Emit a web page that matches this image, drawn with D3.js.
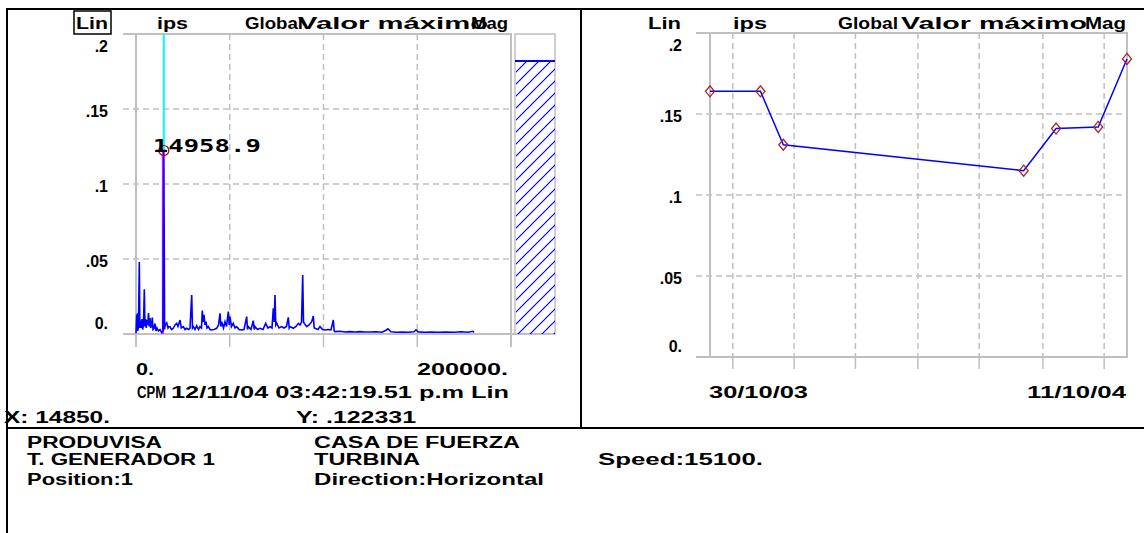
<!DOCTYPE html>
<html><head><meta charset="utf-8">
<script src="https://cdn.jsdelivr.net/npm/d3@7"></script>
<style>
html,body{margin:0;padding:0;background:#fff;}
svg{display:block;}
text{font-family:"Liberation Sans",Arial,sans-serif;font-weight:bold;font-size:16px;fill:#000;}
</style>
</head><body>
<svg id="chart" width="1144" height="533"></svg>
<script>
// ---------------- DATA ----------------
// Spectrum (left panel): frequency in CPM, amplitude in ips
const spectrumCPM = [0,370,690,960,1330,1760,2080,2450,2770,3200,3570,4000,4430,4800,5170,5490,5870,6240,6670,7040,7470,7840,8270,8690,9070,9600,10130,10670,11200,12000,12800,13600,14400,14850,15250,15630,16370,17070,17600,18130,18930,19890,20800,21710,22400,23470,24160,25230,26130,27040,28000,28800,29710,30130,30560,31470,32370,33330,34130,34930,35360,35840,36270,36800,37330,37870,38560,39470,40370,41600,43040,44000,44800,45230,45710,46670,47470,48270,49230,49710,50130,50930,51890,52800,53710,54930,56370,57600,59040,59470,59890,61330,62560,63040,63470,64800,66130,67730,69170,70400,71470,72530,73230,73710,74130,74560,75040,76270,77710,78930,80270,81230,81710,82130,83890,85330,86560,87470,88270,88910,89330,89760,91040,92270,93710,94560,95040,95470,97070,98130,99470,100800,102400,104000,105230,105710,106130,108800,111470,114130,116800,119470,122130,124800,128000,131200,133330,134400,136000,138670,141870,145070,148270,149330,150400,153600,157330,161070,165330,169600,173330,177070,179730,180270];
const spectrumIPS = [0.0005,0.0125,0.013,0.002,0.005,0.048,0.004,0.009,0.004,0.010,0.003,0.006,0.0298,0.005,0.010,0.004,0.0093,0.006,0.014,0.005,0.0107,0.004,0.006,0.011,0.003,0.0038,0.007,0.002,0.004,0.002,0.003,0.001,0.002,0.122331,0.003,0.0063,0.0075,0.004,0.005,0.0049,0.003,0.0038,0.006,0.0071,0.005,0.0093,0.004,0.0049,0.003,0.0038,0.003,0.0038,0.026,0.004,0.0049,0.003,0.0055,0.003,0.0049,0.004,0.0156,0.008,0.0127,0.006,0.0082,0.004,0.0049,0.003,0.0027,0.003,0.0038,0.006,0.0138,0.005,0.0082,0.004,0.0082,0.005,0.0149,0.006,0.0116,0.005,0.0071,0.004,0.0049,0.003,0.0027,0.003,0.0116,0.003,0.0049,0.003,0.0089,0.003,0.0049,0.003,0.0038,0.003,0.0071,0.004,0.0049,0.004,0.0171,0.008,0.026,0.006,0.0071,0.004,0.0049,0.004,0.005,0.0111,0.004,0.0049,0.0038,0.005,0.0071,0.006,0.008,0.0393,0.008,0.0071,0.0049,0.006,0.0082,0.012,0.004,0.0038,0.003,0.0049,0.003,0.0027,0.003,0.0027,0.0093,0.002,0.0016,0.0018,0.0013,0.0016,0.0013,0.0016,0.0013,0.0013,0.0015,0.0012,0.0025,0.0035,0.0015,0.0012,0.0013,0.0012,0.0015,0.0028,0.0014,0.0012,0.0013,0.0012,0.0013,0.0012,0.0015,0.0012,0.0018,0.001];
const peakCPM = 14850;
const peakIPS = 0.122331;
const peakLabel = "14958.9";
const overallMag = 0.182;

const yTickValues = [0, 0.05, 0.1, 0.15, 0.2];
const yTickLabels = ["0.", ".05", ".1", ".15", ".2"];
const specXTicks = [0, 50000, 100000, 150000, 200000];
const specXLabels = ["0.", "200000."];

// Trend (right panel)
const trendDates = ["2003-10-30","2003-12-11","2003-12-30","2004-07-17","2004-08-13","2004-09-17","2004-10-11"];
const trendValues = [0.164, 0.164, 0.131, 0.115, 0.141, 0.142, 0.184];
const trendGridDates = ["2003-11-18","2004-01-08","2004-02-28","2004-04-20","2004-06-10","2004-08-02","2004-09-22"];
const trendDateLabels = ["30/10/03", "11/10/04"];

// Header / footer texts
const headerTexts = ["Lin", "ips", "Global", "Valor máximo", "Mag"];
const cursorTexts = ["CPM", "12/11/04 03:42:19.51 p.m Lin", "X: 14850.", "Y: .122331"];
const infoCol1 = ["PRODUVISA", "T. GENERADOR 1", "Position:1"];
const infoCol2 = ["CASA DE FUERZA", "TURBINA", "Direction:Horizontal"];
const infoCol3 = ["", "Speed:15100.", ""];

// ---------------- DRAW ----------------
const svg = d3.select("#chart");
const GRID = "#c0c0c0";
const BLUE = "#0000ff";

const defs = svg.append("defs");
const pat = defs.append("pattern").attr("id", "hatch")
  .attr("patternUnits", "userSpaceOnUse").attr("width", 12).attr("height", 12);
pat.append("path").attr("d", "M0,12 L12,0 M-3,3 L3,-3 M9,15 L15,9")
  .attr("stroke", BLUE).attr("stroke-width", 1.2);

function txt(g, s, x, y, w, anchor) {
  const t = g.append("text").attr("x", x).attr("y", y).text(s)
    .attr("text-anchor", anchor || "start");
  if (w) t.attr("textLength", w).attr("lengthAdjust", "spacingAndGlyphs");
  return t;
}
function line(g, x1, y1, x2, y2, color, w, dash) {
  const l = g.append("line").attr("x1", x1).attr("y1", y1).attr("x2", x2).attr("y2", y2)
    .attr("stroke", color).attr("stroke-width", w);
  if (dash) l.attr("stroke-dasharray", dash);
  return l;
}

// outer frame
const frame = svg.append("g");
line(frame, 6, 9, 1144, 9, "#000", 2);
line(frame, 7, 8, 7, 533, "#000", 2);
line(frame, 581, 8, 581, 428, "#000", 2);
line(frame, 6, 428, 1144, 428, "#000", 2);

// generic plot frame/grid
function drawGrid(g, P, x, y, xGridVals, baselineRight, rightBottom) {
  yTickValues.forEach(v => {
    if (v === 0 || v === 0.2) return;
    line(g, P.axisLeft, y(v), P.x1, y(v), GRID, 1.5, "6,4");
  });
  xGridVals.forEach(v => {
    const xv = x(v);
    line(g, xv, P.y1, xv, P.y0, GRID, 1.5, "6,4");
    line(g, xv, P.y0, xv, P.tickBottom, GRID, 1.5);
  });
  line(g, P.axisLeft, y(0.2), P.x1 + 1, y(0.2), GRID, 2);
  line(g, P.axisLeft, y(0), baselineRight, y(0), GRID, 2);
  line(g, P.x0, y(0.2), P.x0, P.axisBottom, GRID, 2);
  line(g, P.x1, y(0.2), P.x1, rightBottom, GRID, 2);
  yTickValues.forEach((v, i) => {
    const c = Math.max(y(0.2) + 12, Math.min(y(0) - 11, y(v) + 2));
    txt(g, yTickLabels[i], P.labelRight, c + 6, null, "end");
  });
}

// ---- Left: spectrum ----
const L = {x0: 136, x1: 511, y0: 334, y1: 34, axisLeft: 123, tickBottom: 347, axisBottom: 347, labelRight: 108};
const xs = d3.scaleLinear().domain([0, 200000]).range([L.x0, L.x1]);
const ys = d3.scaleLinear().domain([0, 0.2]).range([L.y0, L.y1]);
const gl = svg.append("g");
drawGrid(gl, L, xs, ys, specXTicks.slice(1, -1), 555, L.tickBottom);

// Mag bar
const barX0 = 515, barX1 = 555;
gl.append("rect").attr("x", barX0).attr("y", ys(0.2)).attr("width", barX1 - barX0)
  .attr("height", ys(0) - ys(0.2)).attr("fill", "none").attr("stroke", GRID).attr("stroke-width", 1.5);
gl.append("rect").attr("x", barX0 + 1).attr("y", ys(overallMag)).attr("width", barX1 - barX0 - 1)
  .attr("height", ys(0) - ys(overallMag)).attr("fill", "url(#hatch)");
line(gl, barX0, ys(overallMag), barX1, ys(overallMag), BLUE, 2);

// cursor lines
line(gl, xs(peakCPM), ys(0.2), xs(peakCPM), ys(peakIPS), "#00ffff", 2);
line(gl, xs(peakCPM) - 1, ys(peakIPS), xs(peakCPM) - 1, ys(0), "#ff00ff", 2);

// spectrum
const specData = spectrumCPM.map((f, i) => [f, spectrumIPS[i]]);
gl.append("path").datum(specData)
  .attr("d", d3.line().x(d => xs(d[0])).y(d => ys(d[1])))
  .attr("fill", "none").attr("stroke", BLUE).attr("stroke-width", 1.6);

// peak marker & label
gl.append("circle").attr("cx", xs(peakCPM)).attr("cy", ys(peakIPS)).attr("r", 5)
  .attr("fill", "none").attr("stroke", "#b00000").attr("stroke-width", 1.2);
txt(gl, peakLabel, xs(peakCPM) - 11, ys(peakIPS) + 1.5, 108)
  .style("font-family", "'DejaVu Sans Mono', monospace").style("font-size", "17px");

// x labels
txt(gl, specXLabels[0], xs(specXTicks[0]), 375, 18);
txt(gl, specXLabels[1], xs(specXTicks[4]) - 3, 375, 91, "end");

// header (left)
gl.append("rect").attr("x", 74).attr("y", 11).attr("width", 37).attr("height", 23)
  .attr("fill", "none").attr("stroke", "#000").attr("stroke-width", 1.5);
txt(gl, headerTexts[0], 76, 29, 32);
txt(gl, headerTexts[1], 157, 29, 31);
txt(gl, headerTexts[2], 245, 29, 58);
txt(gl, headerTexts[3], 298, 29, 190);
txt(gl, headerTexts[4], 471, 29, 37);

// cursor info
txt(gl, cursorTexts[0], 137, 398, 29);
txt(gl, cursorTexts[1], 171, 398, 338);
txt(gl, cursorTexts[2], 4, 423, 106);
txt(gl, cursorTexts[3], 296, 423, 120);

// ---- Right: trend ----
const R = {x0: 710, x1: 1127, y0: 357, y1: 33, axisLeft: 696, tickBottom: 369, axisBottom: 357, labelRight: 682};
const parse = d3.timeParse("%Y-%m-%d");
const xt = d3.scaleTime().domain([parse(trendDates[0]), parse(trendDates[trendDates.length - 1])]).range([R.x0, R.x1]);
const yt = d3.scaleLinear().domain([0, 0.2]).range([R.y0, R.y1]);
const gr = svg.append("g");
drawGrid(gr, R, xt, yt, trendGridDates.map(parse), R.x1 + 1, R.y0);

const trendData = trendDates.map((d, i) => [parse(d), trendValues[i]]);
gr.append("path").datum(trendData)
  .attr("d", d3.line().x(d => xt(d[0])).y(d => yt(d[1])))
  .attr("fill", "none").attr("stroke", BLUE).attr("stroke-width", 1.5);
gr.selectAll("path.mk").data(trendData).enter().append("path").attr("class", "mk")
  .attr("transform", d => `translate(${xt(d[0])},${yt(d[1])})`)
  .attr("d", "M0,-5.5 L4.5,0 L0,5.5 L-4.5,0 Z")
  .attr("fill", "none").attr("stroke", "#b02020").attr("stroke-width", 1.3);

txt(gr, trendDateLabels[0], R.x0 - 1, 398, 99);
txt(gr, trendDateLabels[1], R.x1 - 1, 398, 99, "end");

txt(gr, headerTexts[0], 648, 29, 33);
txt(gr, headerTexts[1], 733, 29, 34);
txt(gr, headerTexts[2], 838, 29, 60);
txt(gr, headerTexts[3], 901, 29, 186);
txt(gr, headerTexts[4], 1085, 29, 41);

// ---- Footer ----
const gf = svg.append("g");
const rowY = [448, 465, 485];
const col1W = [135, 188, 106], col2W = [206, 106, 230], col3W = [0, 165, 0];
infoCol1.forEach((s, i) => { if (s) txt(gf, s, 27, rowY[i], col1W[i]); });
infoCol2.forEach((s, i) => { if (s) txt(gf, s, 314, rowY[i], col2W[i]); });
infoCol3.forEach((s, i) => { if (s) txt(gf, s, 598, rowY[i], col3W[i]); });
</script>
</body></html>
